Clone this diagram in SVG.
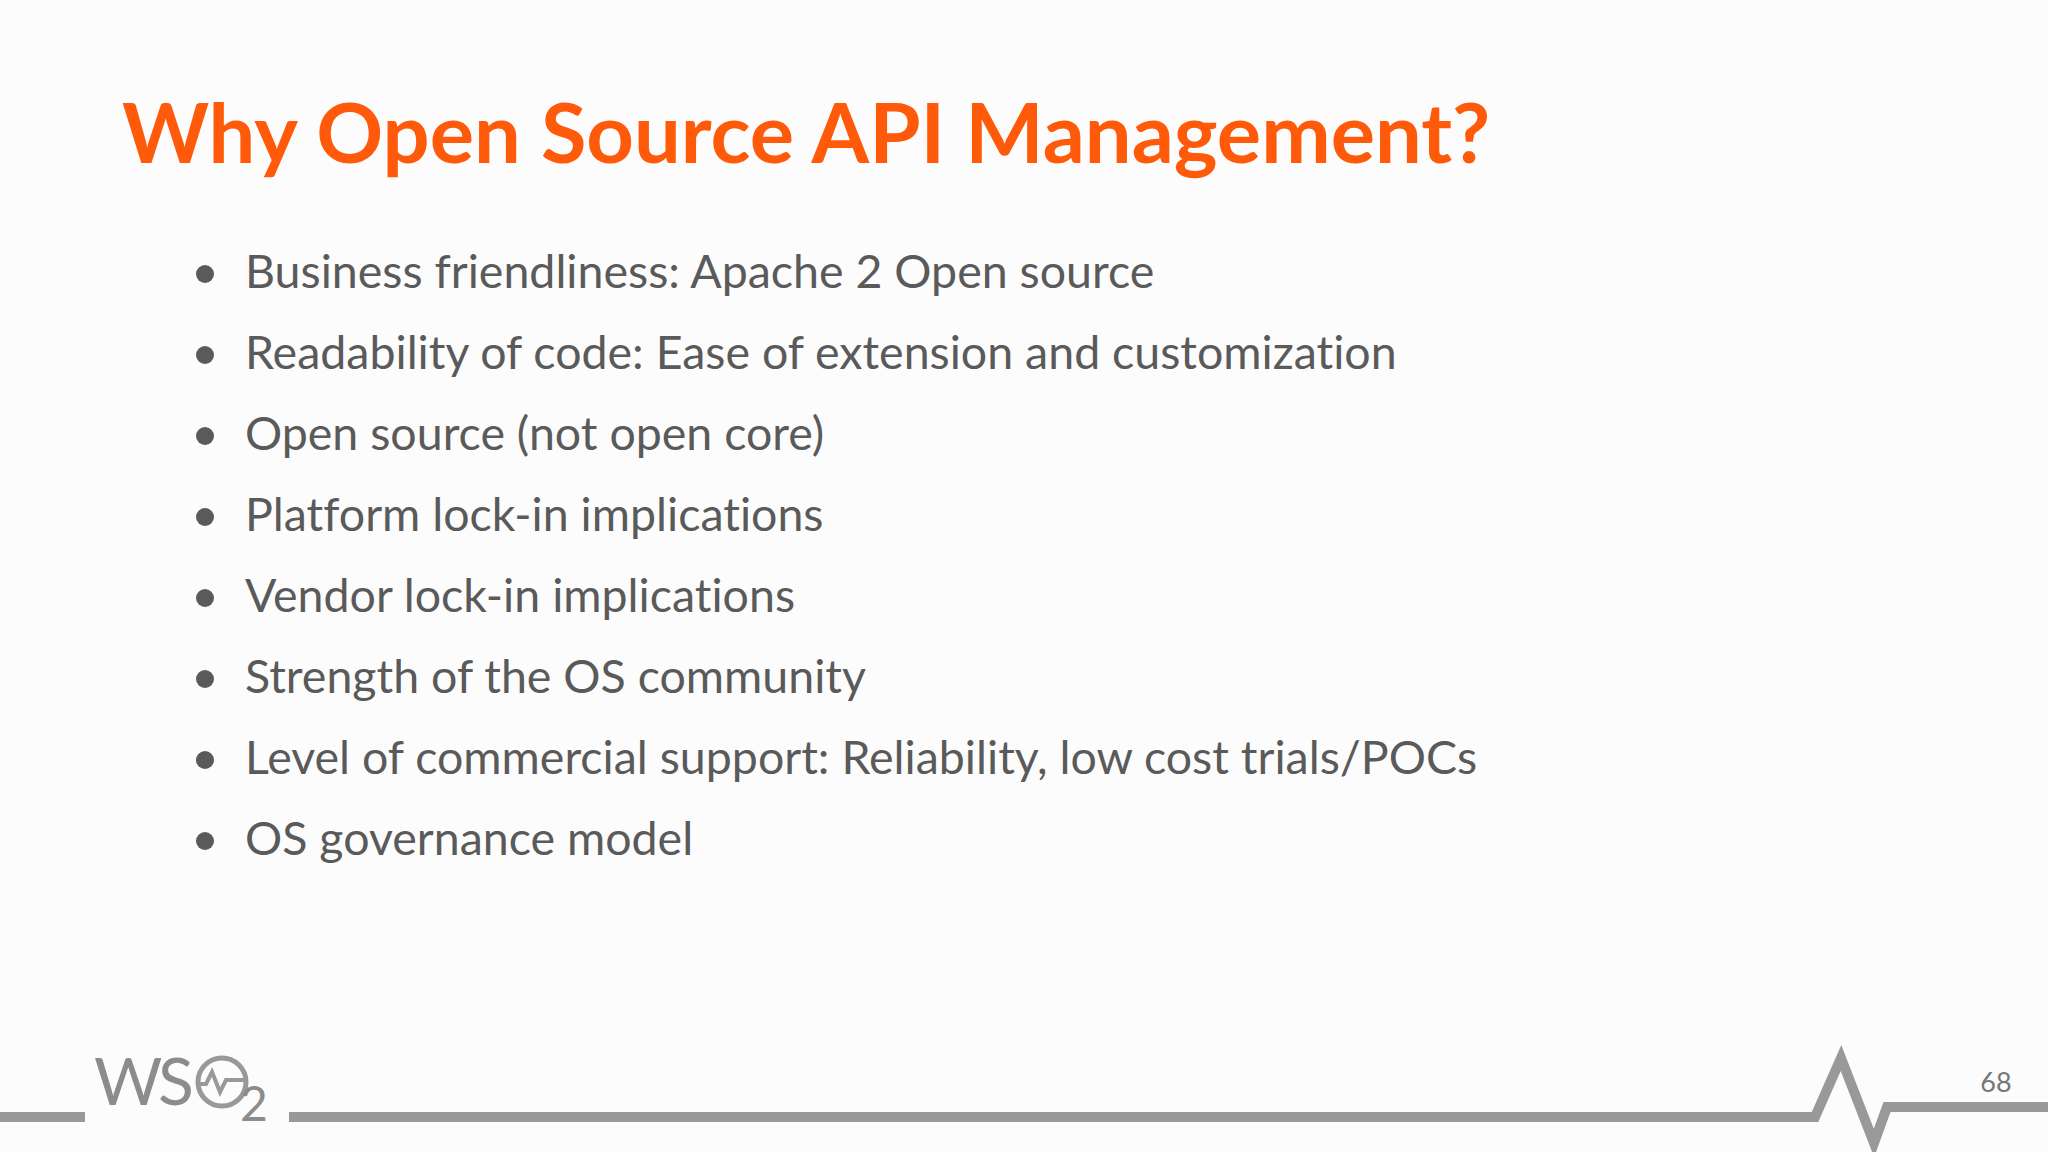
<svg xmlns="http://www.w3.org/2000/svg" width="2048" height="1152" viewBox="0 0 2048 1152">
<style>
.t{font-family:Lato,"Open Sans",sans-serif;font-weight:bold;font-size:83px;fill:#FF5A0A}
.b{font-family:Lato,"Open Sans",sans-serif;font-size:46.5px;fill:#5a5a5a;font-variant-ligatures:none}
.g{stroke:#999;fill:none}
</style>
<rect width="2048" height="1152" fill="#fdfcfd"/>
<text class="t" x="122" y="163">Why Open Source API Management?</text>
<g fill="#5a5a5a">
<circle cx="205" cy="274" r="9"/><circle cx="205" cy="355" r="9"/><circle cx="205" cy="436" r="9"/><circle cx="205" cy="517" r="9"/>
<circle cx="205" cy="598" r="9"/><circle cx="205" cy="679" r="9"/><circle cx="205" cy="760" r="9"/><circle cx="205" cy="841" r="9"/>
</g>
<text class="b" x="245" y="288">Business friendliness: Apache 2 Open source</text>
<text class="b" x="245" y="369">Readability of code: Ease of extension and customization</text>
<text class="b" x="245" y="450">Open source (not open core)</text>
<text class="b" x="245" y="531">Platform lock-in implications</text>
<text class="b" x="245" y="612">Vendor lock-in implications</text>
<text class="b" x="245" y="693">Strength of the OS community</text>
<text class="b" x="245" y="774">Level of commercial support: Reliability, low cost trials/POCs</text>
<text class="b" x="245" y="855">OS governance model</text>
<g id="footer">
<path class="g" stroke-width="10" d="M0 1117H85M289 1117H1815L1841 1058L1874 1143L1887 1107H2048"/>
<text x="94" y="1105" font-family="Lato,sans-serif" font-size="66" fill="#8c8c8c" letter-spacing="-4">WS</text>
<circle class="g" cx="222" cy="1082" r="24" stroke-width="5"/>
<path class="g" stroke-width="4" d="M198 1084h8l6-12l8 20l6-12h20"/>
<text x="240" y="1121" font-family="Lato,sans-serif" font-size="48" fill="#8c8c8c">2</text>
<text x="1996" y="1092" text-anchor="middle" font-family="Lato,sans-serif" font-size="27" fill="#777">68</text>
</g>
</svg>
